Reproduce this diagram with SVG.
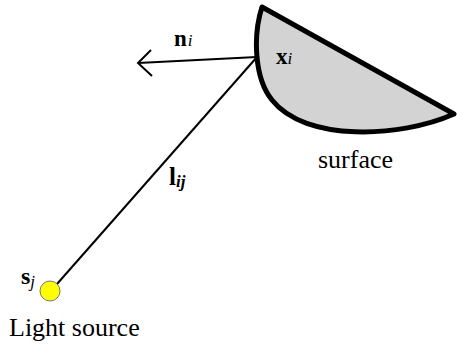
<svg xmlns="http://www.w3.org/2000/svg" width="457" height="350" viewBox="0 0 457 350">
<style>
.lbl{font-family:"Liberation Serif","Times New Roman",serif;fill:#000}
.b{font-weight:bold}
.it{font-style:italic}
.ln{stroke:#000;stroke-width:2;fill:none}
</style>
<rect width="457" height="350" fill="#fff"/>
<g id="connectors">
<line class="ln" x1="257" y1="57" x2="57" y2="284"/>
<line class="ln" x1="257" y1="57" x2="138" y2="63"/>
<polyline class="ln" points="151,50 138,63 152,76"/>
</g>
<g id="surface">
<path d="M262,7 L454,114 C 400,138 305,142 272,100 C 254,78 253,35 262,7 Z" fill="#d3d3d3" stroke="#000" stroke-width="5" stroke-linejoin="round"/>
<text class="lbl" x="318" y="168" font-size="26">surface</text>
</g>
<g id="point-x">
<text class="lbl" x="276" y="64" font-size="23"><tspan class="b">x</tspan><tspan class="it" font-size="17">i</tspan></text>
</g>
<g id="normal-n">
<text class="lbl" x="174" y="46" font-size="23"><tspan class="b">n</tspan><tspan class="it" font-size="17" dx="1">i</tspan></text>
</g>
<g id="light-l">
<text class="lbl" x="169" y="185" font-size="25"><tspan class="b">l</tspan><tspan class="b it" font-size="17" dy="2">ij</tspan></text>
</g>
<g id="light-source">
<circle cx="50" cy="291" r="10" fill="#ffff00" stroke="#777" stroke-width="1"/>
<text class="lbl" x="21" y="284" font-size="24"><tspan class="b">s</tspan><tspan class="it" font-size="17" dy="3">j</tspan></text>
<text class="lbl" x="9" y="336" font-size="26">Light source</text>
</g>
</svg>
